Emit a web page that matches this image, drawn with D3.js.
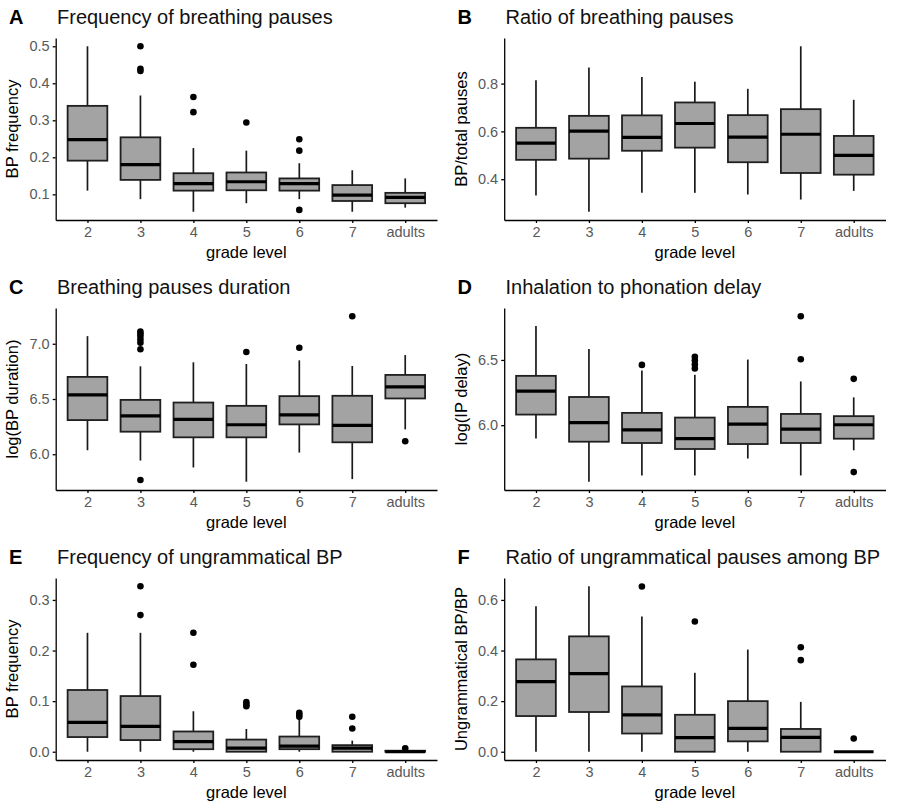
<!DOCTYPE html>
<html lang="en">
<head>
<meta charset="UTF-8">
<title>Breathing pauses by grade level</title>
<script src="https://d3js.org/d3.v7.min.js"></script>
<style>
    body { margin: 0; background: #fff; }
    svg { font-family: "Liberation Sans", Arial, sans-serif; }
    .tick text { fill: #595959; font-size: 14.5px; }
    .domain, .tick line { stroke: #000; stroke-width: 1.3; }
</style>
</head>
<body>
<div id="chart"></div>
<script>
// grade levels on the x axis
const grades = ["2", "3", "4", "5", "6", "7", "adults"];

// box stats per grade: [lower whisker, Q1, median, Q3, upper whisker]
const statsA = [[0.110, 0.191, 0.248, 0.339, 0.500], [0.087, 0.139, 0.180, 0.254, 0.367], [0.053, 0.110, 0.129, 0.157, 0.225],
    [0.076, 0.111, 0.134, 0.159, 0.218], [0.087, 0.110, 0.129, 0.143, 0.184], [0.053, 0.082, 0.098, 0.125, 0.165], [0.064, 0.076, 0.092, 0.104, 0.143]];
const outA = [[], [0.500, 0.439, 0.433], [0.363, 0.322], [0.294], [0.249, 0.218, 0.058], [], []];
const ticksA = [0.1, 0.2, 0.3, 0.4, 0.5];

const statsB = [[0.332, 0.481, 0.551, 0.615, 0.814], [0.264, 0.486, 0.601, 0.665, 0.867], [0.343, 0.519, 0.575, 0.667, 0.828],
    [0.343, 0.532, 0.633, 0.721, 0.808], [0.336, 0.471, 0.576, 0.668, 0.778], [0.315, 0.426, 0.588, 0.693, 0.956], [0.351, 0.419, 0.500, 0.581, 0.732]];
const outB = [[], [], [], [], [], [], []];
const ticksB = [0.4, 0.6, 0.8];

const statsC = [[6.036, 6.309, 6.538, 6.700, 7.069], [5.943, 6.204, 6.348, 6.492, 6.796], [5.880, 6.153, 6.315, 6.468, 6.832],
    [5.751, 6.153, 6.267, 6.438, 6.817], [6.015, 6.270, 6.357, 6.526, 6.850], [5.775, 6.108, 6.261, 6.529, 6.799], [6.225, 6.505, 6.610, 6.718, 6.898]];
const outC = [[], [7.11, 7.09, 7.07, 7.04, 7.01, 6.95, 5.766], [], [6.925], [6.964], [7.249], [6.117]];
const ticksC = [6.0, 6.5, 7.0];

const statsD = [[5.898, 6.081, 6.261, 6.378, 6.761], [5.566, 5.873, 6.020, 6.216, 6.584], [5.614, 5.863, 5.964, 6.094, 6.419],
    [5.614, 5.817, 5.896, 6.058, 6.386], [5.744, 5.855, 6.008, 6.140, 6.503], [5.614, 5.863, 5.970, 6.086, 6.335], [5.807, 5.896, 6.003, 6.069, 6.213]];
const outD = [[], [], [6.462], [6.525, 6.495, 6.465, 6.435], [], [6.835, 6.505], [6.355, 5.640]];
const ticksD = [6.0, 6.5];

const statsE = [[0, 0.029, 0.058, 0.122, 0.235], [0, 0.023, 0.050, 0.110, 0.235], [0, 0.005, 0.020, 0.040, 0.080],
    [0, 0, 0.007, 0.024, 0.045], [0, 0.005, 0.011, 0.030, 0.066], [0, 0, 0.007, 0.013, 0.022], [0, 0, 0, 0.002, 0.003]];
const outE = [[], [0.327, 0.270], [0.235, 0.172], [0.098, 0.093, 0.090], [0.077, 0.073, 0.069], [0.069, 0.046], [0.007]];
const ticksE = [0.0, 0.1, 0.2, 0.3];

const statsF = [[0, 0.141, 0.277, 0.365, 0.575], [0, 0.157, 0.309, 0.456, 0.654], [0, 0.072, 0.146, 0.258, 0.535],
    [0, 0, 0.056, 0.146, 0.312], [0, 0.041, 0.092, 0.200, 0.404], [0, 0, 0.057, 0.090, 0.197], [0, 0, 0, 0, 0]];
const outF = [[], [], [0.653], [0.515], [], [0.413, 0.362], [0.052]];
const ticksF = [0.0, 0.2, 0.4, 0.6];

const panels = [
    {tag: "A", title: "Frequency of breathing pauses", ylab: "BP frequency", stats: statsA, out: outA, ticks: ticksA},
    {tag: "B", title: "Ratio of breathing pauses", ylab: "BP/total pauses", stats: statsB, out: outB, ticks: ticksB},
    {tag: "C", title: "Breathing pauses duration", ylab: "log(BP duration)", stats: statsC, out: outC, ticks: ticksC},
    {tag: "D", title: "Inhalation to phonation delay", ylab: "log(IP delay)", stats: statsD, out: outD, ticks: ticksD},
    {tag: "E", title: "Frequency of ungrammatical BP", ylab: "BP frequency", stats: statsE, out: outE, ticks: ticksE},
    {tag: "F", title: "Ratio of ungrammatical pauses among BP", ylab: "Ungrammatical BP/BP", stats: statsF, out: outF, ticks: ticksF}
];

const svg = d3.select("#chart").append("svg")
    .attr("width", 899)
    .attr("height", 801);

const plotLeft = 55.7, plotRight = 437, plotTop = 38, plotBottom = 220;

panels.forEach((p, k) => {
    const g = svg.append("g")
        .attr("transform", `translate(${(k % 2) * 448.5},${Math.floor(k / 2) * 270})`);

    const x = d3.scalePoint()
        .domain(grades)
        .range([plotLeft, plotRight])
        .padding(0.6);

    // ggplot-style 5% expansion around the data range
    const vals = p.stats.flat().concat(p.out.flat());
    const lo = d3.min(vals), hi = d3.max(vals), pad = (hi - lo) * 0.05;
    const y = d3.scaleLinear()
        .domain([lo - pad, hi + pad])
        .range([plotBottom, plotTop]);

    g.append("g")
        .attr("transform", `translate(0,${plotBottom})`)
        .call(d3.axisBottom(x).tickSize(3).tickSizeOuter(0).tickPadding(4));

    g.append("g")
        .attr("transform", `translate(${plotLeft},0)`)
        .call(d3.axisLeft(y).tickValues(p.ticks).tickFormat(d3.format(".1f")).tickSize(3).tickSizeOuter(0));

    const bw = x.step() * 0.75;
    const boxes = g.selectAll(".box")
        .data(p.stats)
        .join("g")
        .attr("class", "box")
        .attr("transform", (d, i) => `translate(${x(grades[i])},0)`);

    boxes.append("line")
        .attr("y1", d => y(d[4])).attr("y2", d => y(d[3]))
        .attr("stroke", "#1a1a1a").attr("stroke-width", 1.7);
    boxes.append("line")
        .attr("y1", d => y(d[1])).attr("y2", d => y(d[0]))
        .attr("stroke", "#1a1a1a").attr("stroke-width", 1.7);
    boxes.append("rect")
        .attr("x", -bw / 2)
        .attr("width", bw)
        .attr("y", d => y(d[3]))
        .attr("height", d => y(d[1]) - y(d[3]))
        .attr("fill", "#a3a3a3")
        .attr("stroke", "#1f1f1f")
        .attr("stroke-width", 1.8);
    boxes.append("line")
        .attr("x1", -bw / 2).attr("x2", bw / 2)
        .attr("y1", d => y(d[2])).attr("y2", d => y(d[2]))
        .attr("stroke", "#000").attr("stroke-width", 3.2);

    p.out.forEach((o, i) => {
        g.selectAll(null)
            .data(o)
            .join("circle")
            .attr("cx", x(grades[i]))
            .attr("cy", d => y(d))
            .attr("r", 3.3)
            .attr("fill", "#000");
    });

    g.append("text")
        .attr("x", 9).attr("y", 24)
        .attr("font-size", 20).attr("font-weight", "bold")
        .text(p.tag);
    g.append("text")
        .attr("x", 57).attr("y", 24)
        .attr("font-size", 20).attr("fill", "#111")
        .text(p.title);

    g.append("text")
        .attr("x", (plotLeft + plotRight) / 2).attr("y", 258)
        .attr("text-anchor", "middle")
        .attr("font-size", 16.5)
        .text("grade level");
    g.append("text")
        .attr("transform", `translate(18,${(plotTop + plotBottom) / 2}) rotate(-90)`)
        .attr("text-anchor", "middle")
        .attr("font-size", 16.5)
        .text(p.ylab);
});
</script>
</body>
</html>
